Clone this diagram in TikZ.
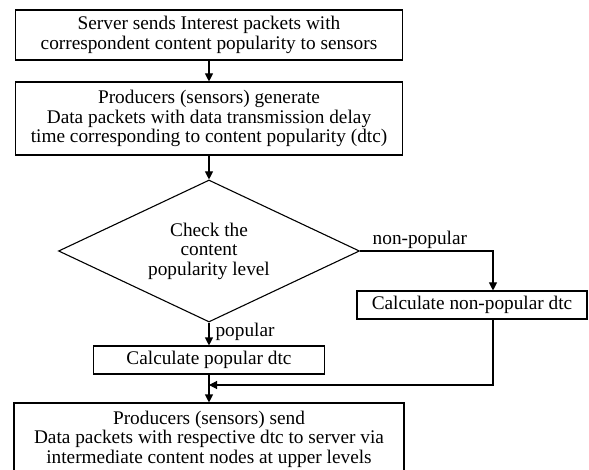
\documentclass[tikz,border=0pt]{standalone}
\usepackage{fontspec}
\setmainfont{Liberation Serif}
\usetikzlibrary{positioning,arrows.meta,shapes.geometric}

\begin{document}
\begin{tikzpicture}[
  x=1pt, y=-1pt,
  box/.style={draw, line width=1.1pt, align=center, inner sep=0pt,
              font=\fontsize{19.3}{19.5}\selectfont},
  decision/.style={diamond, draw, line width=1.1pt, aspect=2.1,
              inner sep=0pt, align=center, font=\fontsize{19.3}{19.5}\selectfont},
  flow/.style={-{Triangle[length=8pt,width=8pt]}, line width=1.1pt},
  lbl/.style={font=\fontsize{19.3}{19.5}\selectfont, inner sep=2pt}
]
\useasboundingbox (0,0) rectangle (589,470);

% Request from the server
\node[box, minimum width=387pt, minimum height=50pt] (server) at (209,35)
  {Server sends Interest packets with\\
   correspondent content popularity to sensors};

% Producers build the data packets
\node[box, minimum width=387pt, minimum height=73pt] (generate) at (209,118.5)
  {Producers (sensors) generate\\
   Data packets with data transmission delay\\
   time corresponding to content popularity (dtc)};

% Popularity test
\node[decision, minimum width=301pt, minimum height=142pt] (check) at (209,251)
  {Check the\\content\\popularity level};

% dtc for each case
\node[box, minimum width=230pt, minimum height=28pt] (nonpop) at (472,305)
  {Calculate non-popular dtc};
\node[box, minimum width=231pt, minimum height=28pt] (pop) at (209,360)
  {Calculate popular dtc};

% Producers send
\node[box, minimum width=390pt, minimum height=72pt] (send) at (209,439)
  {Producers (sensors) send\\
   Data packets with respective dtc to server via\\
   intermediate content nodes at upper levels};

\coordinate (merge) at (209,385);

% Arrows
\draw[flow] (server) -- (generate);
\draw[flow] (generate) -- (check);
\draw[flow] (check.south) -- node[lbl, right=4pt, pos=0.4] {popular} (pop.north);
\draw[flow] (check.east) -| node[lbl, above, pos=0.225] {non-popular}
  ([xshift=21pt]nonpop.north);
\draw[flow] (pop) -- (send);
\draw[flow] ([xshift=21pt]nonpop.south) |- (merge);

\end{tikzpicture}
\end{document}
